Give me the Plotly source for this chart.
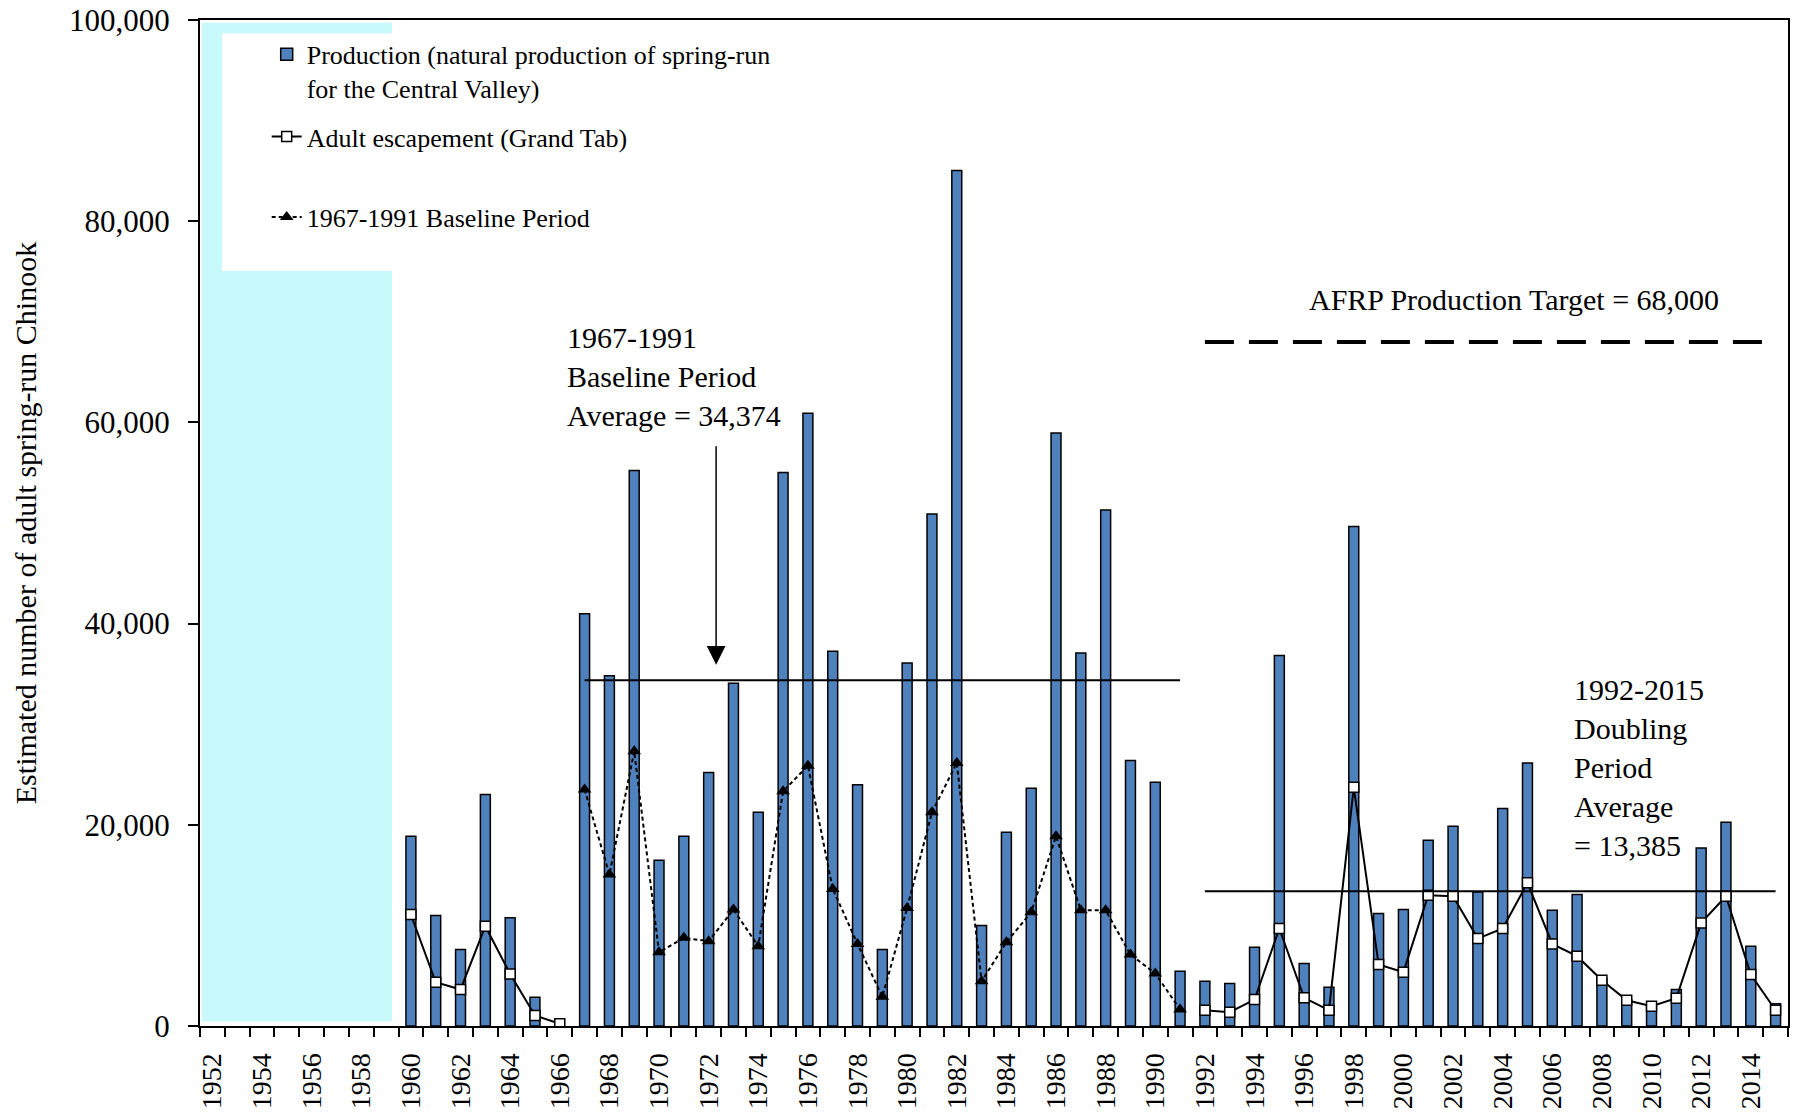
import plotly.graph_objects as go

# ---------------- data ----------------
years = list(range(1952, 2016))

prod_years = [1960, 1961, 1962, 1963, 1964, 1965, 1967, 1968, 1969, 1970, 1971, 1972, 1973, 1974,
              1975, 1976, 1977, 1978, 1979, 1980, 1981, 1982, 1983, 1984, 1985, 1986, 1987, 1988,
              1989, 1990, 1991, 1992, 1993, 1994, 1995, 1996, 1997, 1998, 1999, 2000, 2001, 2002,
              2003, 2004, 2005, 2006, 2007, 2008, 2009, 2010, 2011, 2012, 2013, 2014, 2015]
production = [18860, 10980, 7600, 23000, 10750, 2860, 40980, 34820, 55220, 16470, 18860, 25190, 34060, 21240,
              55020, 60920, 37240, 23990, 7600, 36080, 50890, 85030, 9985, 19260, 23630, 58940, 37080, 51300,
              26380, 24220, 5450, 4450, 4220, 7830, 36840, 6210, 3860, 49660, 11180, 11570, 18460, 19850,
              13330, 21610, 26150, 11500, 13060, 4700, 2600, 2000, 3630, 17700, 20250, 7930, 2200]

esc_years = [1960, 1961, 1962, 1963, 1964, 1965, 1966, None,
             1992, 1993, 1994, 1995, 1996, 1997, 1998, 1999, 2000, 2001, 2002, 2003,
             2004, 2005, 2006, 2007, 2008, 2009, 2010, 2011, 2012, 2013, 2014, 2015]
escapement = [11080, 4350, 3630, 9920, 5180, 1040, 220, None,
              1570, 1370, 2630, 9690, 2800, 1570, 23730, 6110, 5350, 13000, 12900, 8690,
              9690, 14230, 8160, 6940, 4550, 2560, 1970, 2760, 10250, 12900, 5120, 1570]

base_years = list(range(1967, 1992))
baseline = [23500, 15050, 27300, 7330, 8760, 8430, 11570, 7930, 23330, 25880, 13630, 8160, 2900,
            11740, 21240, 26150, 4450, 8330, 11310, 18860, 11500, 11500, 7100, 5220, 1640]

baseline_avg = 34374
baseline_span = [1967, 1991]
doubling_avg = 13385
doubling_span = [1992, 2015]
afrp_target = 68000
afrp_span = [1992, 2015]

label_years = list(range(1952, 2015, 2))
y_ticks = [0, 20000, 40000, 60000, 80000, 100000]

FONT = "Liberation Serif"

fig = go.Figure()

# background highlight rectangle and legend box
fig.add_shape(type="rect", xref="x", yref="y", x0=1951.58, x1=1959.24, y0=480, y1=99730,
              fillcolor="#C8FAFB", line=dict(width=0), layer="below")
fig.add_shape(type="rect", xref="x", yref="y", x0=1952.39, x1=1975.7, y0=75060, y1=98650,
              fillcolor="white", line=dict(width=0), layer="below")

fig.add_trace(go.Bar(
    x=prod_years, y=production, width=0.4,
    marker=dict(color="#4F81BD", line=dict(color="black", width=1.5)),
    name="Production (natural production of spring-run<br>for the Central Valley)",
    legend="legend",
))

fig.add_trace(go.Scatter(
    x=esc_years, y=escapement, mode="lines+markers", connectgaps=False,
    line=dict(color="black", width=2),
    marker=dict(symbol="square", size=10, color="white", line=dict(color="black", width=1.5)),
    name="Adult escapement (Grand Tab)", legend="legend2",
))

fig.add_trace(go.Scatter(
    x=base_years, y=baseline, mode="lines+markers",
    line=dict(color="black", width=2, dash="4px,3px"),
    marker=dict(symbol="triangle-up", size=12, color="black"),
    name="1967-1991 Baseline Period", legend="legend3",
))

# average / target lines
fig.add_shape(type="line", xref="x", yref="y", x0=baseline_span[0], x1=baseline_span[1],
              y0=baseline_avg, y1=baseline_avg, line=dict(color="black", width=2))
fig.add_shape(type="line", xref="x", yref="y", x0=doubling_span[0], x1=doubling_span[1],
              y0=doubling_avg, y1=doubling_avg, line=dict(color="black", width=2))
fig.add_shape(type="line", xref="x", yref="y", x0=afrp_span[0], x1=afrp_span[1],
              y0=afrp_target, y1=afrp_target, line=dict(color="black", width=4, dash="29px,15px"))

# annotations
fig.add_annotation(x=1966.21, y=64530, xref="x", yref="y", xanchor="left", yanchor="middle",
                   align="left", showarrow=False,
                   text="1967-1991<br>Baseline Period<br>Average = 34,374",
                   font=dict(family=FONT, size=30, color="black"))
fig.add_annotation(x=1972.3, y=35900, ax=1972.3, ay=57770, xref="x", yref="y", axref="x", ayref="y",
                   showarrow=True, arrowhead=2, arrowsize=2.5, arrowwidth=1.5, arrowcolor="black", text="")
fig.add_annotation(x=2006.8, y=25680, xref="x", yref="y", xanchor="left", yanchor="middle",
                   align="left", showarrow=False,
                   text="1992-2015<br>Doubling<br>Period<br>Average<br>= 13,385",
                   font=dict(family=FONT, size=30, color="black"))
fig.add_annotation(x=2004.46, y=72180, xref="x", yref="y", xanchor="center", yanchor="middle",
                   showarrow=False, text="AFRP Production Target = 68,000",
                   font=dict(family=FONT, size=30, color="black"))

leg_common = dict(x=0.042, xanchor="left", bgcolor="rgba(0,0,0,0)",
                  font=dict(family=FONT, size=26, color="black"))

fig.update_layout(
    width=1800, height=1113,
    margin=dict(l=200, r=12, t=20, b=87, autoexpand=False),
    paper_bgcolor="white", plot_bgcolor="white",
    font=dict(family=FONT, color="black"),
    showlegend=True,
    legend=dict(y=0.949, yanchor="middle", valign="top", **leg_common),
    legend2=dict(y=0.884, yanchor="middle", **leg_common),
    legend3=dict(y=0.804, yanchor="middle", **leg_common),
    xaxis=dict(
        range=[1951.5, 2015.5], automargin=False,
        tickmode="array", tickvals=label_years, ticktext=[str(v) for v in label_years],
        tickangle=-90, ticks="", tickfont=dict(family=FONT, size=28, color="black"),
        ticklabelstandoff=14, ticklabeloverflow="allow",
        minor=dict(tickmode="array", tickvals=[y - 0.5 for y in years] + [2015.5],
                   ticks="outside", ticklen=9, tickwidth=2, tickcolor="black", showgrid=False),
        showline=True, linecolor="black", linewidth=2, mirror=True,
        showgrid=False, zeroline=False,
    ),
    yaxis=dict(
        range=[0, 100000], automargin=False,
        tickmode="array", tickvals=y_ticks, tickformat=",",
        ticks="outside", ticklen=10, tickwidth=2, tickcolor="black",
        tickfont=dict(family=FONT, size=31, color="black"),
        ticklabelstandoff=12, ticklabeloverflow="allow",
        title=dict(text="Estimated number of adult spring-run Chinook",
                   font=dict(family=FONT, size=30, color="black"), standoff=24),
        showline=True, linecolor="black", linewidth=2, mirror=True,
        showgrid=False, zeroline=False,
    ),
)

# remove the default 8px page margin so the figure fills the window exactly
fig.write_html("out.html", config={"displayModeBar": False},
               post_script="document.body.style.margin='0';")
